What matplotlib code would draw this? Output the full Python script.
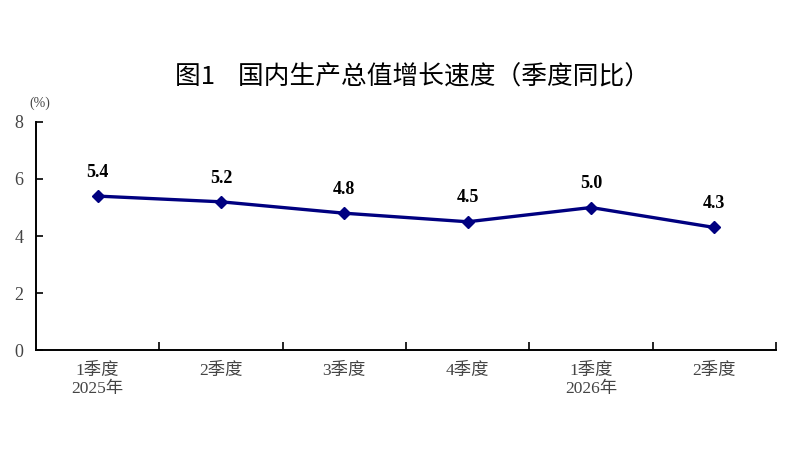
import matplotlib
matplotlib.use("Agg")
import matplotlib.pyplot as plt
import numpy as np

# 数据
quarters = ["1季度\n2025年", "2季度", "3季度", "4季度", "1季度\n2026年", "2季度"]
growth = [5.4, 5.2, 4.8, 4.5, 5.0, 4.3]
yticks = [0, 2, 4, 6, 8]

serif = ["Liberation Serif", "Noto Sans CJK SC"]
sans = ["Noto Sans CJK SC", "DejaVu Sans"]
line_color = "#000080"
gray = "#444444"

fig = plt.figure(figsize=(8, 4.5), dpi=100)
ax = fig.add_axes([0.045, 0.222, 0.925, 0.507])

x = np.arange(len(growth))
ax.plot(x, growth, color=line_color, lw=2.4, marker="D", ms=6.5,
        markerfacecolor=line_color, markeredgecolor=line_color)
for xi, v in zip(x, growth):
    ax.annotate(f"{v:.1f}", (xi, v), xytext=(0, 11), textcoords="offset points",
                ha="center", va="bottom", fontsize=13, fontweight="bold",
                family=serif, color="black")

ax.set_xlim(-0.5, len(growth) - 0.5)
ax.set_ylim(0, 8)
ax.set_yticks(yticks)
ax.set_yticklabels([str(t) for t in yticks], family=serif, fontsize=13, color=gray)

# 类别边界刻度
ax.set_xticks(np.arange(len(growth)) + 0.5)
ax.set_xticklabels([])
ax.tick_params(axis="x", direction="in", length=6, width=1.2)
ax.tick_params(axis="y", direction="in", length=5, width=1.2, pad=9)
for xi, lab in zip(x, quarters):
    ax.text(xi, -0.45, lab, ha="center", va="top", fontsize=12.5, family=serif,
            color=gray, linespacing=1.2, transform=ax.transData)

for s in ["top", "right"]:
    ax.spines[s].set_visible(False)
for s in ["left", "bottom"]:
    ax.spines[s].set_linewidth(1.4)

fig.text(0.516, 0.828, "图1    国内生产总值增长速度（季度同比）", ha="center", va="center",
         fontsize=18.5, family=sans, color="black")
fig.text(0.05, 0.77, "(%)", ha="center", va="center", fontsize=10, family=serif, color=gray)

fig.savefig("out.png", dpi=100, facecolor="white")
